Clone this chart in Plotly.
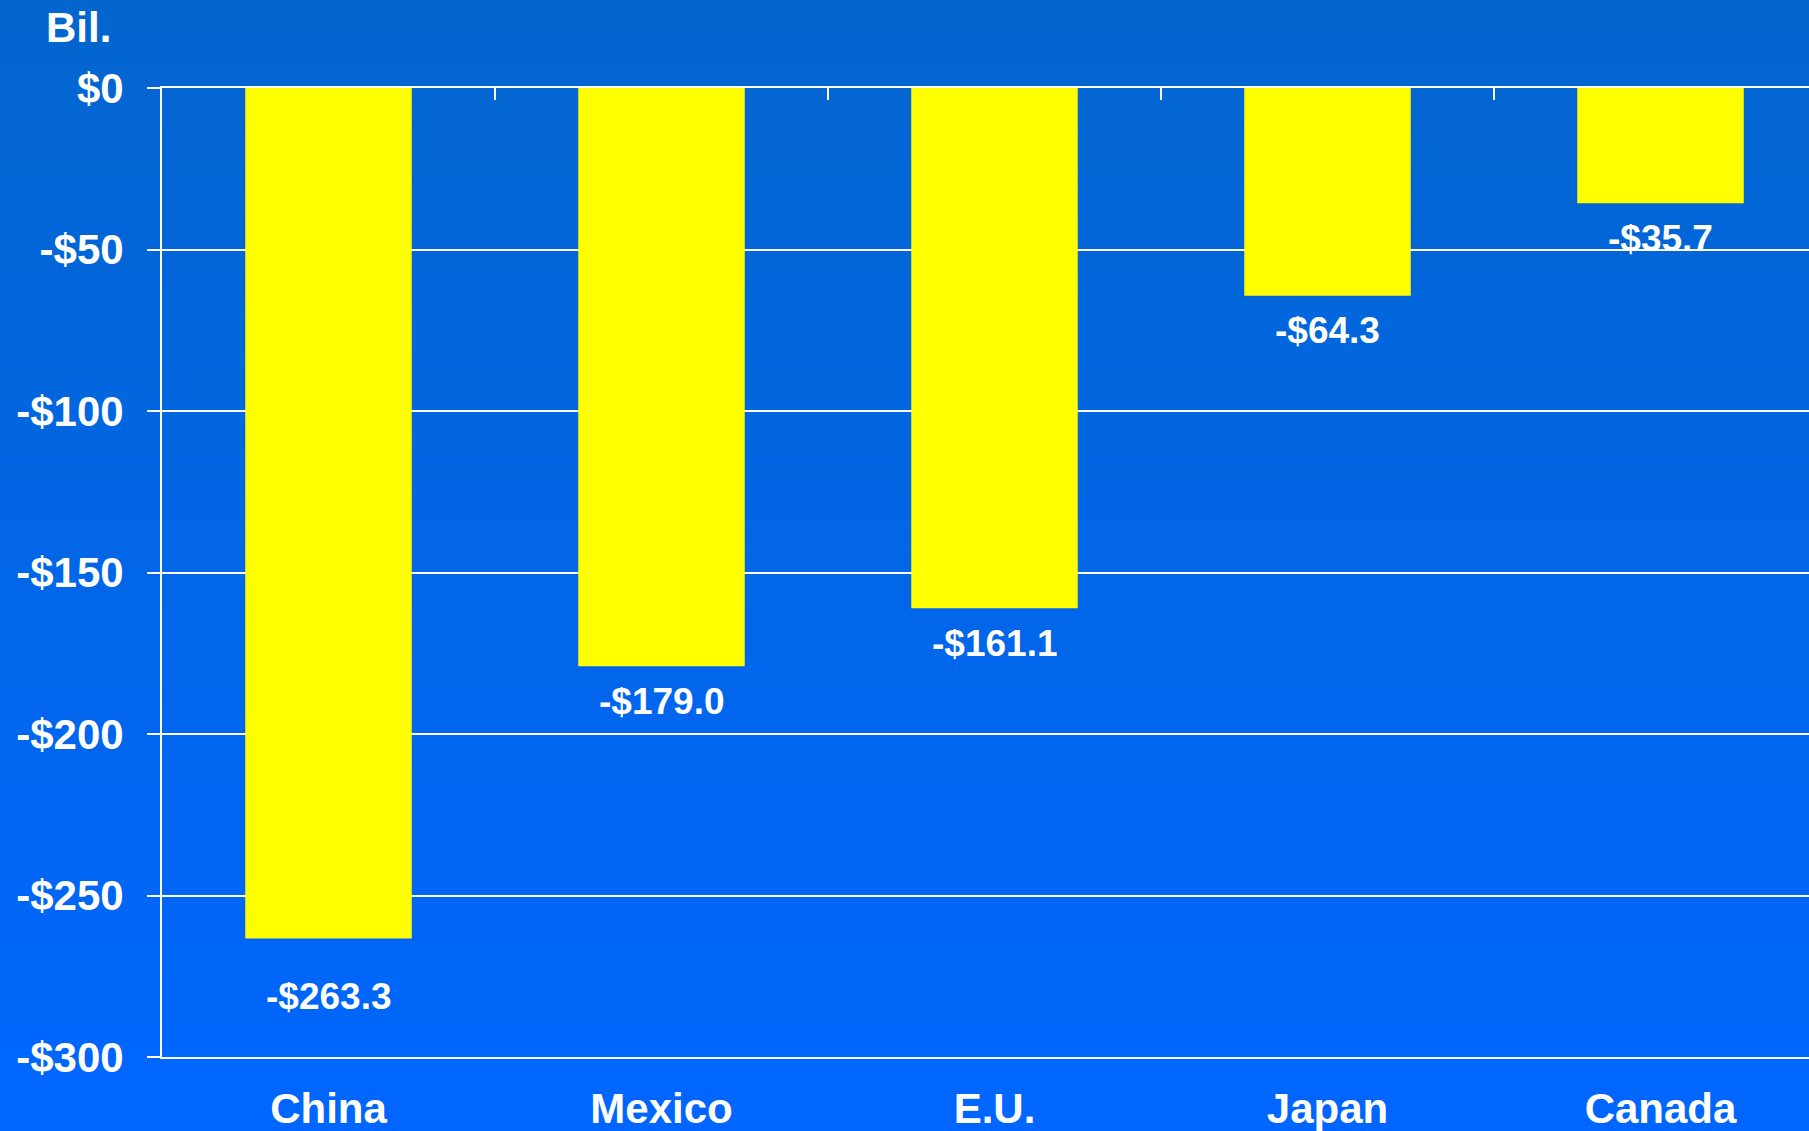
import plotly.graph_objects as go

# Trade balance by partner, billions of US dollars
categories = ["China", "Mexico", "E.U.", "Japan", "Canada"]
balances = [-263.3, -179.0, -161.1, -64.3, -35.7]
label_drop_px = [58, 35, 35, 35, 35]  # distance of each value label below its bar end

y_tick_values = [0, -50, -100, -150, -200, -250, -300]
y_tick_labels = ["$0", "-$50", "-$100", "-$150", "-$200", "-$250", "-$300"]

W, H = 1809, 1131
M_L, M_T, M_B, M_R = 162, 88, 74, 0
plot_w = W - M_L - M_R
plot_h = H - M_T - M_B
cat_px = 333.0
x_hi = -0.5 + plot_w / cat_px

FONT = "Liberation Sans, Arial, sans-serif"
WHITE = "#FFFFFF"

fig = go.Figure()
fig.add_trace(go.Bar(
    x=categories,
    y=balances,
    width=0.5,
    marker=dict(color="#FFFF00", line=dict(width=0)),
    hoverinfo="skip",
))
# same series on the top category axis (transparent) so that axis carries the boundary ticks
fig.add_trace(go.Bar(
    x=categories,
    y=balances,
    width=0.5,
    xaxis="x2",
    opacity=0,
    marker=dict(color="#FFFF00", line=dict(width=0)),
    hoverinfo="skip",
))

# value labels under each bar
for cat, val, drop in zip(categories, balances, label_drop_px):
    fig.add_annotation(
        x=cat, y=val, xref="x", yref="y",
        text=f"-${abs(val):.1f}",
        showarrow=False, yanchor="middle", xanchor="center",
        yshift=-drop,
        font=dict(family=FONT, size=37, color=WHITE, weight="bold"),
    )

# unit caption
fig.add_annotation(
    xref="paper", yref="paper",
    x=(44 - M_L) / plot_w, y=(H - M_B - 27) / plot_h,
    text="Bil.", showarrow=False, xanchor="left", yanchor="middle",
    font=dict(family=FONT, size=42, color=WHITE, weight="bold"),
)

# vertical background gradient built from thin strips
top_rgb = (3, 102, 206)
bot_rgb = (0, 102, 255)
n = 160
shapes = []
for i in range(n):
    t = i / (n - 1)
    r = round(top_rgb[0] + (bot_rgb[0] - top_rgb[0]) * t)
    g = round(top_rgb[1] + (bot_rgb[1] - top_rgb[1]) * t)
    b = round(top_rgb[2] + (bot_rgb[2] - top_rgb[2]) * t)
    px0 = H * i / n
    px1 = H * (i + 1) / n + 1
    shapes.append(dict(
        type="rect", xref="paper", yref="paper", layer="below",
        x0=-M_L / plot_w - 0.01, x1=1.01,
        y0=(H - M_B - px1) / plot_h, y1=(H - M_B - px0) / plot_h,
        fillcolor=f"rgb({r},{g},{b})", line=dict(width=0),
    ))

fig.update_layout(
    width=W, height=H,
    margin=dict(l=M_L, r=M_R, t=M_T, b=M_B, pad=0),
    paper_bgcolor="rgb(0,102,255)",
    plot_bgcolor="rgba(0,0,0,0)",
    showlegend=False,
    bargap=0.5,
    shapes=shapes,
    xaxis=dict(
        type="category",
        range=[-0.5, x_hi],
        automargin=False,
        showgrid=False, zeroline=False,
        showline=True, linecolor=WHITE, linewidth=1.5,
        ticks="",
        tickfont=dict(family=FONT, size=42, color=WHITE, weight="bold"),
        ticklabelstandoff=14,
    ),
    xaxis2=dict(
        type="category",
        overlaying="x", side="top", anchor="y",
        range=[-0.5, x_hi],
        automargin=False,
        tickson="boundaries",
        ticks="inside", ticklen=12, tickwidth=2, tickcolor=WHITE,
        showticklabels=False, showgrid=False, zeroline=False,
        showline=True, linecolor=WHITE, linewidth=2,
    ),
    yaxis=dict(
        range=[-300, 0],
        automargin=False,
        tickvals=y_tick_values, ticktext=y_tick_labels,
        showgrid=True, gridcolor=WHITE, gridwidth=1.5,
        zeroline=False,
        showline=True, linecolor=WHITE, linewidth=2,
        ticks="outside", ticklen=13, tickwidth=2, tickcolor=WHITE,
        tickfont=dict(family=FONT, size=42, color=WHITE, weight="bold"),
        ticklabelstandoff=15,
    ),
)

fig.write_html("out.html")
